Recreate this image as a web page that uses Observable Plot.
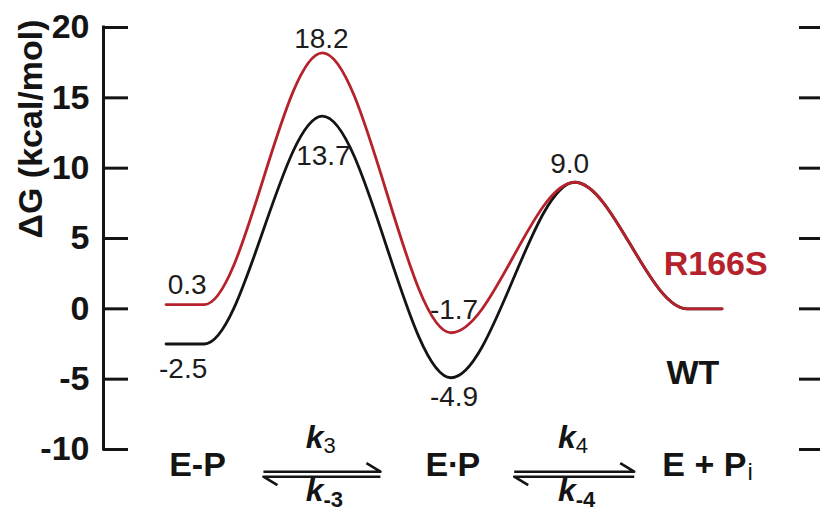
<!DOCTYPE html>
<html><head><meta charset="utf-8">
<script src="https://cdn.jsdelivr.net/npm/d3@7"></script>
<script src="https://cdn.jsdelivr.net/npm/@observablehq/plot@0.6"></script>
<style>
body{margin:0;background:#fff;}
#chart svg{display:block;}
</style>
</head><body><div id="chart"></div>
<script>
// ---- data ----
const reactionCoord = [9, 14.5, 31.5, 50, 67.8, 84, 89];   // profile nodes along the reaction coordinate
const wtDeltaG      = [-2.5, -2.5, 13.7, -4.9, 9.0, 0, 0];
const r166sDeltaG   = [0.3, 0.3, 18.2, -1.7, 9.0, 0, 0];
const seriesNames   = ["WT", "R166S"];
const yTicks        = [-10, -5, 0, 5, 10, 15, 20];
const yLabel        = "ΔG (kcal/mol)";
const stateNames    = ["E-P", "E\u2219P", "E + P"];
const stateSubs     = ["", "", "i"];
const rateTopSubs   = ["3", "4"];
const rateBotSubs   = ["-3", "-4"];

// ---- tables built from the arrays ----
const wt = reactionCoord.map((x, i) => ({x, dG: wtDeltaG[i]}));
const r166s = reactionCoord.map((x, i) => ({x, dG: r166sDeltaG[i]}));
const RED = "#b5222b", INK = "#141414";
const seriesColor = {WT: INK, R166S: RED};
const FONT = "'Liberation Sans', Arial, Helvetica, sans-serif";

// value labels (placement offsets only)
const labelSpec = [
  {s: "R166S", node: 0, plateau: true, dx: 2, dy: -20},
  {s: "R166S", node: 2, dx: -1, dy: -14},
  {s: "R166S", node: 3, dx: 3, dy: -23},
  {s: "R166S", node: 4, dx: -5, dy: -18},
  {s: "WT", node: 0, plateau: true, dx: -2, dy: 25},
  {s: "WT", node: 2, dx: 1, dy: 40},
  {s: "WT", node: 3, dx: 3, dy: 19}
];
const valueMarks = labelSpec.map(l => {
  const vals = l.s === "WT" ? wtDeltaG : r166sDeltaG;
  const x = l.plateau ? (reactionCoord[l.node] + reactionCoord[l.node + 1]) / 2 : reactionCoord[l.node];
  return Plot.text([{x, v: vals[l.node]}], {
    x: "x", y: "v", text: d => d.v.toFixed(1), dx: l.dx, dy: l.dy,
    fontSize: 28, fill: "#1c1c1c", lineAnchor: "middle"
  });
});

// equilibrium harpoons, positioned through the x scale at the barriers
function harpoons(index, scales, values, dimensions) {
  const base = dimensions.height - dimensions.marginBottom;
  const g = d3.create("svg:g").attr("fill", "none").attr("stroke", INK)
    .attr("stroke-width", 2.6).attr("stroke-linejoin", "round");
  [[2, 58.5], [4, 60]].forEach(([node, hw]) => {
    const cx = scales.x(reactionCoord[node]);
    const yt = base + 22.7, yb = base + 27.7;
    g.append("path").attr("d", `M${cx - hw},${yt}H${cx + hw}L${cx + hw - 14},${yt - 8.5}`);
    g.append("path").attr("d", `M${cx + hw},${yb}H${cx - hw}L${cx - hw + 14},${yb + 8.5}`);
  });
  return g.node();
}

const stateX = [17.6, 54.2, 92.5];
const barrierX = [reactionCoord[2], reactionCoord[4]];

const chart = Plot.plot({
  width: 820, height: 516,
  marginLeft: 103, marginRight: 22, marginTop: 27, marginBottom: 67,
  style: {fontFamily: FONT, color: INK, background: "#fff", overflow: "visible"},
  x: {domain: [0, 100], axis: null},
  y: {domain: [-10, 20], axis: null},
  marks: [
    // left axis: line, inward ticks, labels
    Plot.ruleX([0], {x: d => d, y1: -10, y2: 20, strokeWidth: 3, stroke: INK, strokeLinecap: "square"}),
    Plot.ruleY(yTicks, {y: d => d, insetRight: 695 - 25, strokeWidth: 3, stroke: INK}),
    Plot.axisY(yTicks, {anchor: "left", tickSize: 0, tickPadding: 14, fontSize: 34, fontWeight: "bold",
      tickFormat: d => String(d), label: null, fill: INK}),
    // right ticks
    Plot.axisY(yTicks, {anchor: "right", tickSize: 22, strokeWidth: 3, stroke: INK, tickFormat: () => "", label: null}),
    // y label
    Plot.text([yLabel], {text: d => d, frameAnchor: "left", dx: -72, rotate: -90,
      fontSize: 34, fontWeight: "bold", fill: INK}),
    // energy profiles
    Plot.line(wt, {x: "x", y: "dG", stroke: seriesColor.WT, strokeWidth: 2.8, curve: "monotone-x"}),
    Plot.line(r166s, {x: "x", y: "dG", stroke: seriesColor.R166S, strokeWidth: 2.8, curve: "monotone-x"}),
    ...valueMarks,
    // series labels
    Plot.text(["R166S"], {text: d => d, x: 80.6, y: 3.2, textAnchor: "start", fontSize: 34, fontWeight: "bold", fill: seriesColor.R166S}),
    Plot.text(["WT"], {text: d => d, x: 81.0, y: -4.6, textAnchor: "start", fontSize: 34, fontWeight: "bold", fill: seriesColor.WT}),
    // reaction scheme
    Plot.text(stateNames, {text: d => d, x: (d, i) => stateX[i], frameAnchor: "bottom", dy: 26,
      textAnchor: "end", fontSize: 34, fontWeight: "bold", fill: INK}),
    Plot.text(stateSubs, {text: d => d, x: (d, i) => stateX[i], frameAnchor: "bottom", dy: 30,
      textAnchor: "start", dx: 1, fontSize: 24, fill: INK}),
    Plot.text(barrierX, {text: () => "k", x: d => d, frameAnchor: "bottom", dy: -2,
      textAnchor: "end", dx: 1, fontSize: 32, fontWeight: "bold", fontStyle: "italic", fill: INK}),
    Plot.text(rateTopSubs, {text: d => d, x: (d, i) => barrierX[i], frameAnchor: "bottom", dy: 3,
      textAnchor: "start", dx: 1, fontSize: 22, fill: INK}),
    Plot.text(barrierX, {text: () => "k", x: d => d, frameAnchor: "bottom", dy: 51,
      textAnchor: "end", dx: 1, fontSize: 32, fontWeight: "bold", fontStyle: "italic", fill: INK}),
    Plot.text(rateBotSubs, {text: d => d, x: (d, i) => barrierX[i], frameAnchor: "bottom", dy: 57,
      textAnchor: "start", dx: 1, fontSize: 22, fontWeight: "bold", fill: INK}),
    harpoons
  ]
});
document.getElementById("chart").appendChild(chart);
</script>
</body></html>
